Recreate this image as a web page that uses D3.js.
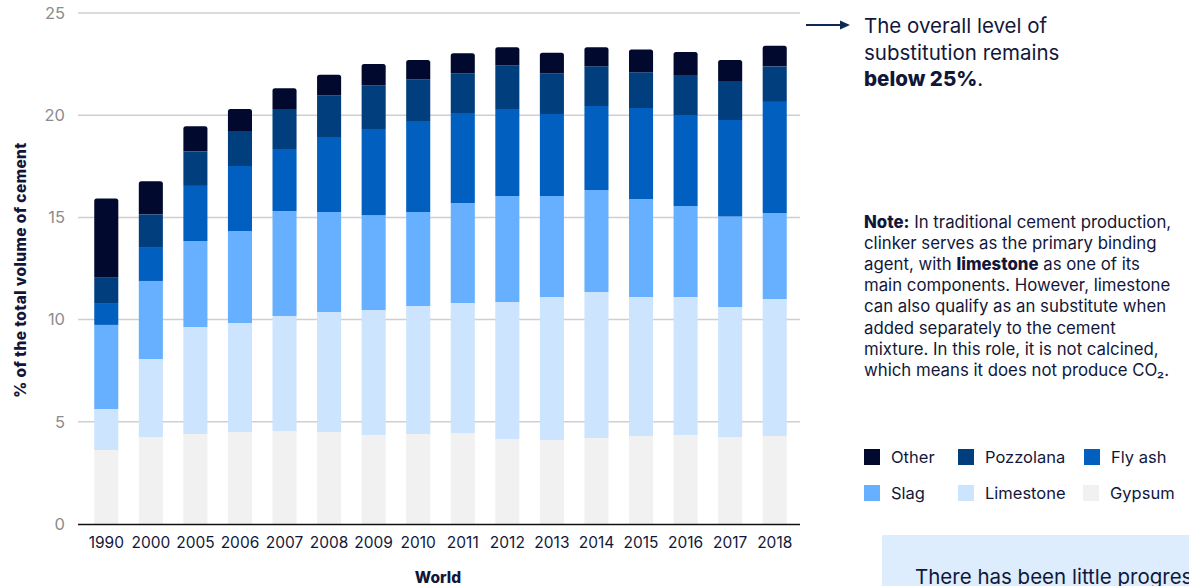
<!DOCTYPE html>
<html>
<head>
<meta charset="utf-8">
<script src="https://cdn.jsdelivr.net/npm/d3@7"></script>
<style>
  html, body { margin: 0; padding: 0; background: #fff; overflow: hidden; }
  svg { display: block; font-family: "Inter", "Noto Sans", sans-serif; }
</style>
</head>
<body>
<svg id="chart" width="1189" height="586"></svg>
<script>
// Share of each clinker substitute, % of total cement volume
const years     = ["1990","2000","2005","2006","2007","2008","2009","2010","2011","2012","2013","2014","2015","2016","2017","2018"];
const gypsum    = [3.62, 4.26, 4.40, 4.50, 4.55, 4.50, 4.35, 4.40, 4.45, 4.16, 4.11, 4.21, 4.31, 4.35, 4.26, 4.31];
const limestone = [2.01, 3.81, 5.24, 5.33, 5.63, 5.87, 6.12, 6.27, 6.36, 6.70, 7.00, 7.14, 6.80, 6.76, 6.36, 6.70];
const slag      = [4.11, 3.82, 4.21, 4.50, 5.13, 4.89, 4.64, 4.59, 4.89, 5.19, 4.94, 4.99, 4.79, 4.45, 4.42, 4.20];
const flyAsh    = [1.07, 1.66, 2.69, 3.18, 3.04, 3.67, 4.21, 4.46, 4.41, 4.25, 4.01, 4.11, 4.45, 4.45, 4.73, 5.44];
const pozzolana = [1.27, 1.60, 1.68, 1.72, 1.95, 2.04, 2.14, 2.04, 1.94, 2.14, 1.99, 1.94, 1.75, 1.96, 1.90, 1.74];
const other     = [3.85, 1.62, 1.24, 1.07, 1.02, 1.01, 1.04, 0.94, 0.98, 0.88, 1.01, 0.93, 1.12, 1.12, 1.03, 1.01];
const yTicks    = [0, 5, 10, 15, 20, 25];

const seriesKeys   = ["Gypsum", "Limestone", "Slag", "Fly ash", "Pozzolana", "Other"];
const seriesValues = [gypsum, limestone, slag, flyAsh, pozzolana, other];
const colors = {
  "Other": "#010a2e",
  "Pozzolana": "#003e7e",
  "Fly ash": "#005fbf",
  "Slag": "#66b0ff",
  "Limestone": "#cce4fd",
  "Gypsum": "#f1f1f1"
};
const ink = "#12173a";

const rows = years.map((y, i) => {
  const r = { year: y };
  seriesKeys.forEach((k, j) => r[k] = seriesValues[j][i]);
  return r;
});

const svg = d3.select("#chart");

const x = d3.scaleBand().domain(years).range([84, 797]).paddingInner(0.46).paddingOuter(0.23);
const y = d3.scaleLinear().domain([0, 25]).range([524, 13]);

// Gridlines
svg.append("g")
  .selectAll("line")
  .data(yTicks.filter(d => d > 0))
  .join("line")
  .attr("x1", 78).attr("x2", 800)
  .attr("y1", d => y(d)).attr("y2", d => y(d))
  .attr("stroke", "#cfcfcf").attr("stroke-width", 1.5);

// Y axis labels
const yAxis = svg.append("g")
  .attr("transform", "translate(65,0)")
  .call(d3.axisLeft(y).tickValues(yTicks).tickSize(0).tickPadding(0));
yAxis.select(".domain").remove();
yAxis.selectAll("text")
  .attr("fill", "#8c8c8c").attr("font-size", 16.5)
  .attr("font-family", "Inter, 'Noto Sans', sans-serif");

// Stacked bars
const stack = d3.stack().keys(seriesKeys)(rows);
const r = 2.5;
svg.append("g")
  .selectAll("g")
  .data(stack)
  .join("g")
  .attr("fill", d => colors[d.key])
  .each(function(layer) {
    const g = d3.select(this);
    const isTop = layer.key === "Other";
    g.selectAll("path")
      .data(layer)
      .join("path")
      .attr("d", d => {
        const x0 = x(d.data.year), w = x.bandwidth();
        const yt = y(d[1]), yb = y(d[0]);
        if (!isTop) return `M${x0},${yb}V${yt}H${x0 + w}V${yb}Z`;
        return `M${x0},${yb}V${yt + r}Q${x0},${yt} ${x0 + r},${yt}H${x0 + w - r}Q${x0 + w},${yt} ${x0 + w},${yt + r}V${yb}Z`;
      });
  });

// Baseline
svg.append("line")
  .attr("x1", 78).attr("x2", 800)
  .attr("y1", y(0) + 0.5).attr("y2", y(0) + 0.5)
  .attr("stroke", "#111").attr("stroke-width", 1.6);

// X axis labels
const xAxis = svg.append("g")
  .attr("transform", `translate(0,${y(0)})`)
  .call(d3.axisBottom(x).tickSize(0).tickPadding(13));
xAxis.select(".domain").remove();
xAxis.selectAll("text")
  .attr("fill", ink).attr("font-size", 15.5)
  .attr("font-family", "Inter, 'Noto Sans', sans-serif");

// Axis titles
svg.append("text")
  .attr("transform", "translate(26,270) rotate(-90)")
  .attr("text-anchor", "middle")
  .attr("font-size", 15.5).attr("font-weight", 800).attr("fill", ink)
  .attr("letter-spacing", 0.4)
  .text("% of the total volume of cement");

svg.append("text")
  .attr("x", 438).attr("y", 583)
  .attr("text-anchor", "middle")
  .attr("font-size", 15.5).attr("font-weight", 800).attr("fill", ink)
  .text("World");

// Callout arrow and text
svg.append("line")
  .attr("x1", 806).attr("x2", 842).attr("y1", 25).attr("y2", 25)
  .attr("stroke", "#0d2a57").attr("stroke-width", 2);
svg.append("path")
  .attr("d", "M840,20.5 L850,25 L840,29.5 Z")
  .attr("fill", "#0d2a57");

const callout = svg.append("text")
  .attr("x", 864).attr("font-size", 20.5).attr("fill", ink);
callout.append("tspan").attr("x", 864).attr("y", 33).text("The overall level of");
callout.append("tspan").attr("x", 864).attr("y", 60).text("substitution remains");
const l3 = callout.append("tspan").attr("x", 864).attr("y", 86);
l3.append("tspan").attr("font-weight", 800).text("below 25%");
l3.append("tspan").text(".");

// Note paragraph
const note = svg.append("text").attr("font-size", 16.8).attr("fill", ink);
const noteLines = [
  [["Note:", true], [" In traditional cement production,", false]],
  [["clinker serves as the primary binding", false]],
  [["agent, with ", false], ["limestone", true], [" as one of its", false]],
  [["main components. However, limestone", false]],
  [["can also qualify as an substitute when", false]],
  [["added separately to the cement", false]],
  [["mixture. In this role, it is not calcined,", false]],
  [["which means it does not produce CO₂.", false]]
];
noteLines.forEach((parts, i) => {
  const line = note.append("tspan").attr("x", 864).attr("y", 228 + i * 21.1);
  parts.forEach(([t, b]) => line.append("tspan").attr("font-weight", b ? 800 : 400).text(t));
});

// Legend
const legendOrder = [["Other", 864, 449], ["Pozzolana", 958, 449], ["Fly ash", 1084, 449],
                     ["Slag", 864, 485], ["Limestone", 958, 485], ["Gypsum", 1083, 485]];
const legend = svg.append("g");
legendOrder.forEach(([k, lx, ly]) => {
  legend.append("rect").attr("x", lx).attr("y", ly).attr("width", 16).attr("height", 16).attr("fill", colors[k]);
  legend.append("text").attr("x", lx + 27).attr("y", ly + 14)
    .attr("font-size", 16.5).attr("fill", ink).text(k);
});

// Highlight box
svg.append("rect").attr("x", 882).attr("y", 535).attr("width", 320).attr("height", 60).attr("fill", "#ddedfd");
svg.append("text").attr("x", 915).attr("y", 584).attr("font-size", 20.5).attr("fill", ink)
  .text("There has been little progress");
</script>
</body>
</html>
